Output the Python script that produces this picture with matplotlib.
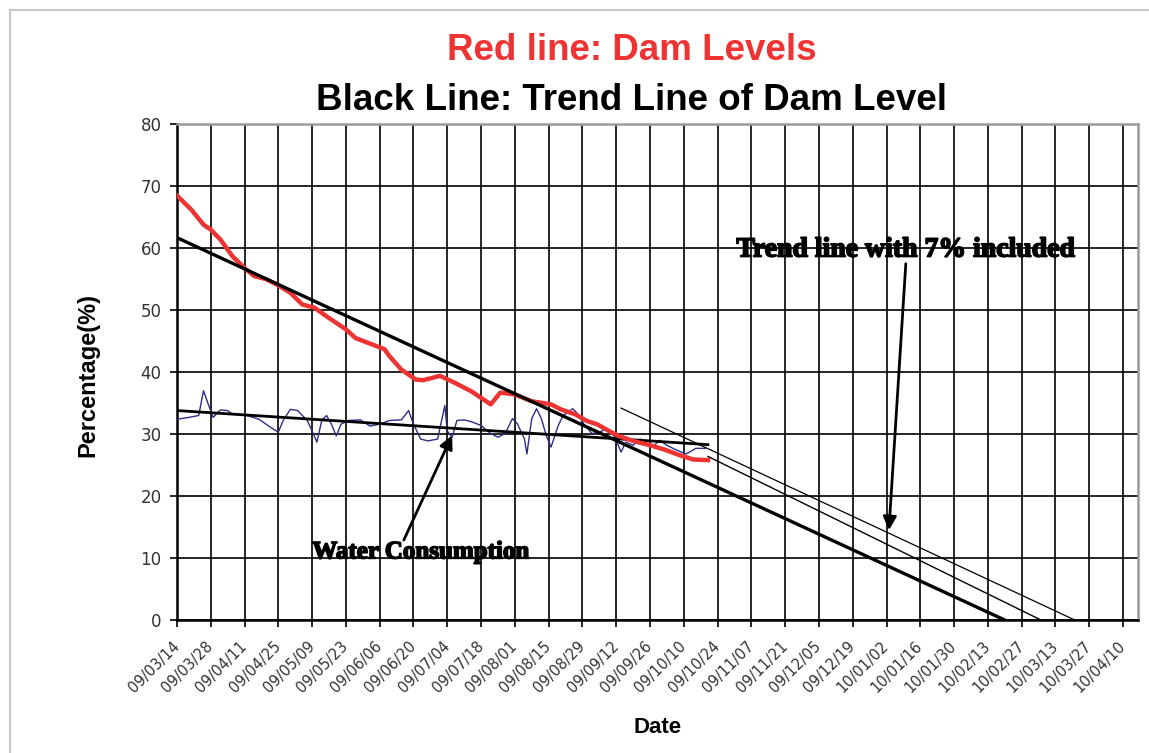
import matplotlib
matplotlib.use("Agg")
import matplotlib.pyplot as plt
import matplotlib.patheffects as pe
import pandas as pd

# dam level (red line), % full
dam_dates = ["2009-03-14", "2009-03-20", "2009-03-25", "2009-03-28", "2009-04-01",
             "2009-04-06", "2009-04-11", "2009-04-15", "2009-04-20", "2009-04-25",
             "2009-04-30", "2009-05-05", "2009-05-10", "2009-05-15", "2009-05-23",
             "2009-05-27", "2009-06-02", "2009-06-08", "2009-06-10", "2009-06-15",
             "2009-06-21", "2009-06-24", "2009-07-01", "2009-07-07", "2009-07-14",
             "2009-07-22", "2009-07-26", "2009-08-01", "2009-08-08", "2009-08-16",
             "2009-08-20", "2009-08-26", "2009-08-31", "2009-09-04", "2009-09-09",
             "2009-09-13", "2009-09-19", "2009-09-26", "2009-10-02", "2009-10-09",
             "2009-10-14", "2009-10-20"]
dam_level = [68.5, 66.2, 63.8, 63.0, 61.4, 58.7, 56.8, 55.5, 55.0, 54.0,
             52.8, 50.9, 50.4, 49.0, 46.9, 45.5, 44.6, 43.7, 42.6, 40.4,
             38.8, 38.7, 39.4, 38.3, 36.9, 34.8, 36.7, 36.4, 35.3, 34.8,
             34.0, 33.2, 32.1, 31.6, 30.5, 29.7, 28.9, 28.2, 27.5, 26.5,
             25.9, 25.8]

# water consumption (blue line)
use_dates = ["2009-03-14", "2009-03-19", "2009-03-23", "2009-03-25", "2009-03-27",
             "2009-03-29", "2009-04-01", "2009-04-04", "2009-04-06", "2009-04-12",
             "2009-04-17", "2009-04-21", "2009-04-25", "2009-04-27", "2009-04-30",
             "2009-05-03", "2009-05-07", "2009-05-09", "2009-05-11", "2009-05-13",
             "2009-05-15", "2009-05-17", "2009-05-19", "2009-05-21", "2009-05-24",
             "2009-05-29", "2009-06-02", "2009-06-06", "2009-06-10", "2009-06-15",
             "2009-06-18", "2009-06-20", "2009-06-23", "2009-06-26", "2009-06-30",
             "2009-07-03", "2009-07-04", "2009-07-06", "2009-07-08", "2009-07-11",
             "2009-07-14", "2009-07-18", "2009-07-22", "2009-07-25", "2009-07-28",
             "2009-07-31", "2009-08-02", "2009-08-05", "2009-08-06", "2009-08-08",
             "2009-08-10", "2009-08-12", "2009-08-14", "2009-08-16", "2009-08-19",
             "2009-08-21", "2009-08-25", "2009-08-27", "2009-08-30", "2009-09-02",
             "2009-09-05", "2009-09-08", "2009-09-10", "2009-09-12", "2009-09-14",
             "2009-09-16", "2009-09-19", "2009-09-22", "2009-09-25", "2009-09-27",
             "2009-09-30", "2009-10-03", "2009-10-06", "2009-10-09", "2009-10-11",
             "2009-10-15", "2009-10-19"]
use_level = [32.4, 32.7, 33.0, 37.0, 34.8, 32.7, 33.9, 33.8, 33.2, 33.0,
             32.4, 31.3, 30.3, 32.2, 34.0, 33.8, 32.2, 30.5, 28.7, 32.2,
             33.0, 31.6, 29.7, 31.6, 32.2, 32.3, 31.3, 31.6, 32.2, 32.3,
             33.8, 31.6, 29.2, 28.9, 29.2, 34.6, 30.5, 29.5, 32.2, 32.3,
             32.0, 31.4, 30.1, 29.5, 30.1, 32.5, 31.7, 29.2, 26.8, 32.5,
             34.1, 32.5, 29.8, 27.9, 31.4, 33.0, 34.1, 33.3, 31.4, 30.1,
             30.3, 30.9, 30.3, 29.0, 27.1, 28.7, 28.2, 29.2, 28.4, 27.9,
             29.0, 28.2, 27.6, 27.1, 26.8, 27.7, 27.7]

# trend lines (end points)
dam_trend_dates = ["2009-03-14", "2010-02-20"]
dam_trend = [61.7, 0.0]
use_trend_dates = ["2009-03-14", "2009-10-20"]
use_trend = [33.8, 28.3]
plus7_lower_dates = ["2009-10-20", "2010-03-07"]
plus7_lower = [26.4, 0.0]
plus7_upper_dates = ["2009-09-14", "2010-03-21"]
plus7_upper = [34.2, 0.0]

tick_dates = pd.date_range("2009-03-14", "2010-04-10", freq="14D")
tick_labels = ["09/03/14", "09/03/28", "09/04/11", "09/04/25", "09/05/09", "09/05/23",
               "09/06/06", "09/06/20", "09/07/04", "09/07/18", "09/08/01", "09/08/15",
               "09/08/29", "09/09/12", "09/09/26", "09/10/10", "09/10/24", "09/11/07",
               "09/11/21", "09/12/05", "09/12/19", "10/01/02", "10/01/16", "10/01/30",
               "10/02/13", "10/02/27", "10/03/13", "10/03/27", "10/04/10"]

fig = plt.figure(figsize=(11.49, 7.53), dpi=100)
ax = fig.add_axes([0.154, 0.1766, 0.836, 0.6584])

ax.plot(pd.to_datetime(use_dates), use_level, color="#2e2e86", lw=1.0, zorder=3)
ax.plot(pd.to_datetime(use_trend_dates), use_trend, color="black", lw=2.0, zorder=4)
ax.plot(pd.to_datetime(dam_dates), dam_level, color="#ee3333", lw=3.2, zorder=5,
        solid_joinstyle="round")
ax.plot(pd.to_datetime(dam_trend_dates), dam_trend, color="black", lw=2.4, zorder=6)
ax.plot(pd.to_datetime(plus7_lower_dates), plus7_lower, color="black", lw=1.0, zorder=6)
ax.plot(pd.to_datetime(plus7_upper_dates), plus7_upper, color="black", lw=0.9, zorder=6)

ax.set_xlim(pd.Timestamp("2009-03-14"), pd.Timestamp("2010-04-16"))
ax.set_ylim(0, 80)
ax.set_yticks(range(0, 81, 10))
ax.set_xticks(tick_dates)
ax.set_xticklabels(tick_labels, rotation=45, ha="right", va="center",
                   rotation_mode="anchor")
ax.grid(True, color="black", lw=1.2, zorder=1)
ax.set_axisbelow(True)
ax.tick_params(axis="both", direction="out", length=5, width=1.2, color="black",
               labelcolor="#333333")
ax.tick_params(axis="x", labelsize=10.5, pad=12)
ax.tick_params(axis="y", labelsize=12, pad=6)

for side in ["left", "bottom"]:
    ax.spines[side].set_color("black")
    ax.spines[side].set_linewidth(1.8)
for side in ["top", "right"]:
    ax.spines[side].set_color("#9a9a9a")
    ax.spines[side].set_linewidth(1.8)

heavy = [pe.withStroke(linewidth=1.2, foreground="black")]

ax.annotate("", xy=(pd.Timestamp("2010-01-03"), 14.5),
            xytext=(pd.Timestamp("2010-01-10"), 57.5),
            arrowprops=dict(arrowstyle="-|>", color="black", lw=2,
                            mutation_scale=20, shrinkA=0, shrinkB=0), zorder=7)
ax.text(pd.Timestamp("2010-01-10"), 59.7, "Trend line with 7% included",
        family="Liberation Serif", weight="bold", fontsize=20, ha="center",
        va="center", path_effects=heavy, zorder=8)

ax.annotate("", xy=(pd.Timestamp("2009-07-06"), 29.8),
            xytext=(pd.Timestamp("2009-06-16"), 12.9),
            arrowprops=dict(arrowstyle="-|>", color="black", lw=2,
                            mutation_scale=20, shrinkA=0, shrinkB=0), zorder=7)
ax.text(pd.Timestamp("2009-06-23"), 11.0, "Water Consumption",
        family="Liberation Serif", weight="bold", fontsize=18, ha="center",
        va="center", path_effects=heavy, zorder=8)

fig.text(0.55, 0.920, "Red line: Dam Levels", color="#ee3333", fontsize=26.5,
         weight="bold", family="Liberation Sans", ha="center", va="baseline")
fig.text(0.55, 0.854, "Black Line: Trend Line of Dam Level", color="black",
         fontsize=26.5, weight="bold", family="Liberation Sans", ha="center",
         va="baseline")
fig.text(0.0766, 0.502, "Percentage(%)", rotation=90, fontsize=17, weight="bold",
         family="Liberation Sans", ha="center", va="center")
fig.text(0.572, 0.0345, "Date", fontsize=16, weight="bold",
         family="Liberation Sans", ha="center", va="center")

# light frame round the chart area
fig.add_artist(plt.Line2D([10 / 1149, 1.0], [1 - 10 / 753, 1 - 10 / 753],
                          transform=fig.transFigure, color="#c8c8c8", lw=1.5))
fig.add_artist(plt.Line2D([10 / 1149, 10 / 1149], [0.0, 1 - 10 / 753],
                          transform=fig.transFigure, color="#c8c8c8", lw=1.5))

fig.savefig("out.png", dpi=100)
